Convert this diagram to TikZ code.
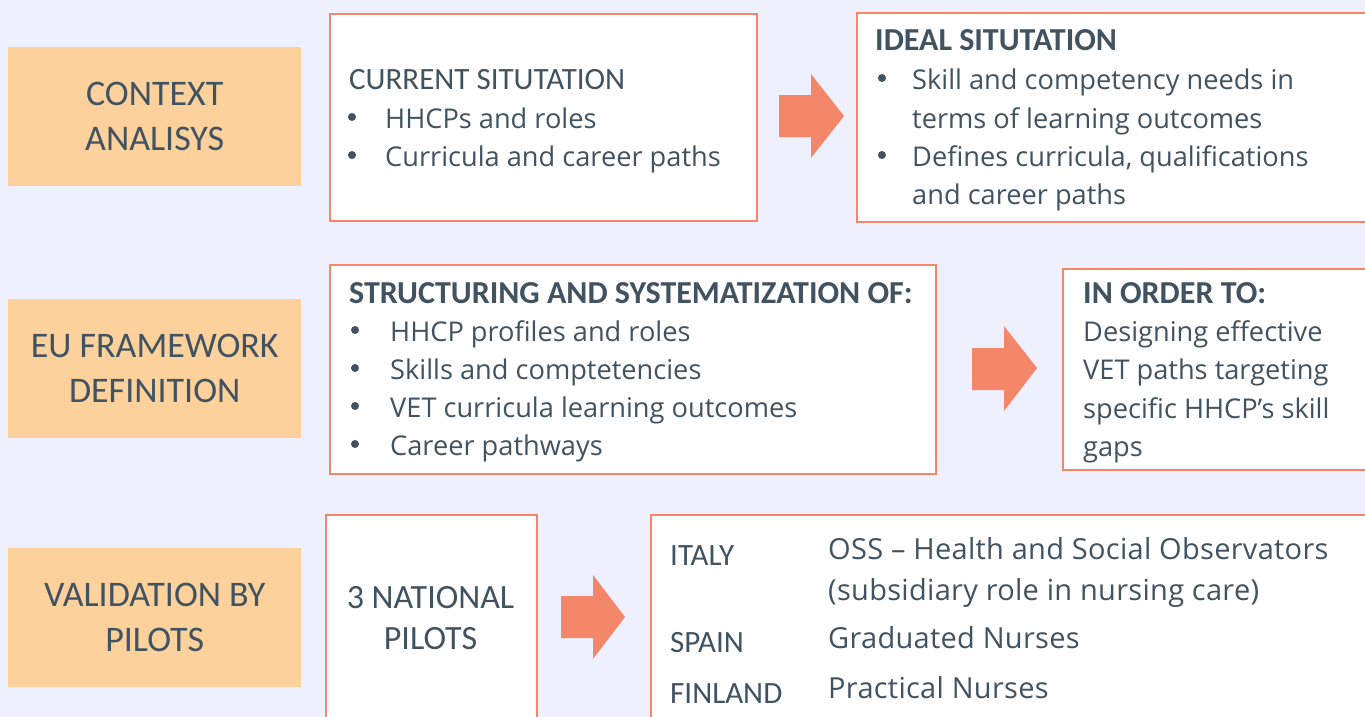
\documentclass[tikz,border=0pt]{standalone}
\usepackage{fontspec}
\setmainfont{Open Sans}
\newfontfamily\carlito{Carlito}
\newfontfamily\osslight[LetterSpace=1]{Open Sans}
\definecolor{bgc}{HTML}{EEF0FD}
\definecolor{orangec}{HTML}{FDD19C}
\definecolor{salmon}{HTML}{F4866A}
\definecolor{txt}{HTML}{415261}
\begin{document}
\begin{tikzpicture}[x=1pt,y=-1pt,
  phase/.style={fill=orangec, draw=none, minimum width=293pt, minimum height=139pt,
    inner sep=0pt, align=center, text=txt, font=\carlito\fontsize{36}{45}\selectfont},
  panel/.style={draw=salmon, line width=2pt, fill=white, inner sep=0pt},
  headtxt/.style={anchor=base west, inner sep=0pt, text=txt, font=\carlito\fontsize{31}{36}\selectfont},
  headbold/.style={anchor=base west, inner sep=0pt, text=txt, font=\carlito\bfseries\fontsize{32}{36}\selectfont},
  bodytxt/.style={anchor=base west, inner sep=0pt, text=txt, font=\fontsize{27.2}{38}\selectfont},
  bulletdot/.style={circle, fill=txt, draw=none, minimum size=8pt, inner sep=0pt},
  country/.style={anchor=base west, inner sep=0pt, text=txt, font=\carlito\fontsize{31}{36}\selectfont},
  desc/.style={anchor=base west, inner sep=0pt, text=txt, font=\osslight\fontsize{29}{38}\selectfont},
  blockarrow/.style={fill=salmon, draw=none}
]
\useasboundingbox (0,0) rectangle (1365,717);
\clip (0,0) rectangle (1365,717);
\fill[bgc] (0,0) rectangle (1365,717);

% left phase boxes
\node[phase, anchor=north west] (p1) at (8,47) {CONTEXT\\ANALISYS};
\node[phase, anchor=north west] (p2) at (8,299) {EU FRAMEWORK\\DEFINITION};
\node[phase, anchor=north west] (p3) at (8,548) {VALIDATION BY\\PILOTS};

% row 1
\node[panel, anchor=north west, minimum width=427pt, minimum height=207pt] (cur) at (329,13) {};
\node[headtxt] (curh) at (349,89) {CURRENT SITUTATION};
\node[bulletdot] (curb1) at (352,117) {};
\node[bodytxt] (curt1) at (385,128) {HHCPs and roles};
\node[bulletdot] (curb2) at (352,155) {};
\node[bodytxt] (curt2) at (385,166) {Curricula and career paths};

\fill[blockarrow] (779,95) -- (811,95) -- (811,74) -- (844,116) -- (811,158) -- (811,137) -- (779,137) -- cycle;

\node[panel, anchor=north west, minimum width=560pt, minimum height=209pt] (ideal) at (856,12) {};
\node[headbold] (idealh) at (875,51) {IDEAL SITUTATION};
\node[bulletdot] (idb1) at (882,78) {};
\node[bodytxt] (idt1) at (912,89) {Skill and competency needs in};
\node[bodytxt] (idt2) at (912,128) {terms of learning outcomes};
\node[bulletdot] (idb2) at (882,155) {};
\node[bodytxt] (idt3) at (912,166) {Defines curricula, qualifications};
\node[bodytxt] (idt4) at (912,204) {and career paths};

% row 2
\node[panel, anchor=north west, minimum width=606pt, minimum height=209pt] (str) at (329,264) {};
\node[headbold] (strh) at (349,303) {STRUCTURING AND SYSTEMATIZATION OF:};
\node[bulletdot] (sb1) at (355,330) {};
\node[bodytxt] (st1) at (390,341) {HHCP profiles and roles};
\node[bulletdot] (sb2) at (355,368) {};
\node[bodytxt] (st2) at (390,379) {Skills and comptetencies};
\node[bulletdot] (sb3) at (355,406) {};
\node[bodytxt] (st3) at (390,417) {VET curricula learning outcomes};
\node[bulletdot] (sb4) at (355,444) {};
\node[bodytxt] (st4) at (390,455) {Career pathways};

\fill[blockarrow] (972,348) -- (1004,348) -- (1004,326) -- (1037,368) -- (1004,411) -- (1004,390) -- (972,390) -- cycle;

\node[panel, anchor=north west, minimum width=360pt, minimum height=201pt] (ord) at (1062,268) {};
\node[headbold] (ordh) at (1083,303) {IN ORDER TO:};
\node[bodytxt] (ot1) at (1083,341) {Designing effective};
\node[bodytxt] (ot2) at (1083,379) {VET paths targeting};
\node[bodytxt] (ot3) at (1083,418) {specific HHCP’s skill};
\node[bodytxt] (ot4) at (1083,456) {gaps};

% row 3
\node[panel, anchor=north west, minimum width=211pt, minimum height=260pt] (nat) at (325,514) {};
\node[text=txt, align=center, inner sep=0pt, font=\carlito\fontsize{34}{41}\selectfont, anchor=base] (natt) at (430.5,649) {3 NATIONAL\\PILOTS};

\fill[blockarrow] (561,596) -- (593,596) -- (593,575) -- (625,617) -- (593,659) -- (593,638) -- (561,638) -- cycle;

\node[panel, anchor=north west, minimum width=760pt, minimum height=260pt] (cty) at (650,514) {};
\node[country] (c1) at (670,565) {ITALY};
\node[country] (c2) at (670,652) {SPAIN};
\node[country] (c3) at (670,703) {FINLAND};
\node[desc] (d1) at (828,559) {OSS – Health and Social Observators};
\node[desc] (d2) at (828,600) {(subsidiary role in nursing care)};
\node[desc] (d3) at (828,648) {Graduated Nurses};
\node[desc] (d4) at (828,698) {Practical Nurses};
\end{tikzpicture}
\end{document}
